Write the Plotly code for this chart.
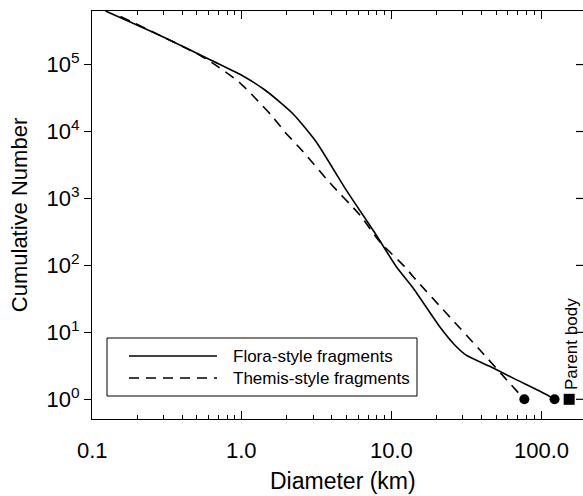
import math
import plotly.graph_objects as go

# Cumulative size distributions of collisional fragments
flora_diameter_km = [0.123, 0.294, 0.631, 1.0, 1.43, 1.80, 2.19, 2.51, 3.16, 5.01,
                     7.94, 10.8, 14.0, 21.1, 26.3, 31.6, 45.7, 64.6, 110.0, 123.0]
flora_cumulative = [631000, 263000, 115000, 69200, 41700, 27500, 18600, 13200, 6920, 1320,
                    282, 95.5, 45.7, 12.0, 6.6, 4.57, 3.09, 2.09, 1.16, 1.0]

themis_diameter_km = [0.155, 0.294, 0.526, 0.708, 0.959, 1.23, 1.58, 1.95, 2.57, 3.89,
                      6.17, 8.39, 12.3, 14.0, 23.4, 38.9, 61.7, 77.3]
themis_cumulative = [525000, 263000, 138000, 90000, 55000, 31600, 17400, 9770, 5010, 1700,
                     562, 224, 95.5, 67.6, 19.1, 5.5, 1.74, 1.0]

# Largest remnant of each family and the original parent body
largest_remnant_d = [flora_diameter_km[-1], themis_diameter_km[-1]]
largest_remnant_n = [flora_cumulative[-1], themis_cumulative[-1]]
parent_body_d = [154.0]
parent_body_n = [1.0]

x_tick_vals = [0.1, 1.0, 10.0, 100.0]
x_tick_text = ["0.1", "1.0", "10.0", "100.0"]
y_tick_vals = [1, 10, 100, 1000, 10000, 100000]
y_tick_text = ["10<sup>0</sup>", "10<sup>1</sup>", "10<sup>2</sup>",
               "10<sup>3</sup>", "10<sup>4</sup>", "10<sup>5</sup>"]
legend_labels = ["Flora-style fragments", "Themis-style fragments"]

FONT = "Liberation Sans, Arial, Helvetica, sans-serif"
INK = "#000000"
DASH = "10px,7px"

fig = go.Figure()
fig.add_trace(go.Scatter(x=flora_diameter_km, y=flora_cumulative, mode="lines",
                         line=dict(color=INK, width=1.6, shape="spline", smoothing=0.6),
                         name=legend_labels[0]))
fig.add_trace(go.Scatter(x=themis_diameter_km, y=themis_cumulative, mode="lines",
                         line=dict(color=INK, width=1.6, dash=DASH, shape="spline", smoothing=0.6),
                         name=legend_labels[1]))
fig.add_trace(go.Scatter(x=largest_remnant_d, y=largest_remnant_n, mode="markers",
                         marker=dict(symbol="circle", size=10, color=INK)))
fig.add_trace(go.Scatter(x=parent_body_d, y=parent_body_n, mode="markers",
                         marker=dict(symbol="square", size=11, color=INK)))

x_range = [-1.0, 2.28]
y_range = [-0.294, 5.8]

# Plot-area geometry in pixels (used for the hand-drawn legend and labels)
L, R, B, T = 92, 583, 419, 11
pw, ph = R - L, B - T
def px(xp):
    return (xp - L) / pw
def py(yp):
    return (B - yp) / ph

shapes = [
    dict(type="rect", xref="paper", yref="paper", x0=px(107), x1=px(417), y0=py(396), y1=py(338),
         line=dict(color=INK, width=1), fillcolor="white", layer="above"),
    dict(type="line", xref="paper", yref="paper", x0=px(129), x1=px(217), y0=py(356), y1=py(356),
         line=dict(color=INK, width=1.6), layer="above"),
    dict(type="line", xref="paper", yref="paper", x0=px(129), x1=px(217), y0=py(378), y1=py(378),
         line=dict(color=INK, width=1.6, dash=DASH), layer="above"),
]
# inward-pointing ticks along the right edge of the frame
for v in y_tick_vals:
    yp = (math.log10(v) - y_range[0]) / (y_range[1] - y_range[0])
    shapes.append(dict(type="line", xref="paper", yref="paper", x0=1 - 7 / pw, x1=1.0, y0=yp, y1=yp,
                       line=dict(color=INK, width=1.2), layer="above"))

annotations = [
    dict(text=legend_labels[0], xref="paper", yref="paper", x=px(231), y=py(356),
         xanchor="left", yanchor="middle", showarrow=False, font=dict(size=17, color=INK, family=FONT)),
    dict(text=legend_labels[1], xref="paper", yref="paper", x=px(231), y=py(378),
         xanchor="left", yanchor="middle", showarrow=False, font=dict(size=17, color=INK, family=FONT)),
    dict(text="Parent body", xref="x", yref="y", x=2.204, y=0.82, textangle=-90,
         xanchor="center", yanchor="middle", showarrow=False, font=dict(size=17, color=INK, family=FONT)),
    dict(text="Diameter (km)", xref="paper", yref="paper", x=px(343), y=py(481),
         xanchor="center", yanchor="middle", showarrow=False, font=dict(size=23, color=INK, family=FONT)),
]
# x tick labels sit lower than the axis would place them
for v, label in zip(x_tick_vals, x_tick_text):
    annotations.append(dict(text=label, xref="x", yref="paper", x=math.log10(v), y=py(450),
                            xanchor="center", yanchor="middle", showarrow=False,
                            font=dict(size=22, color=INK, family=FONT)))

fig.update_layout(
    width=583, height=496,
    margin=dict(l=L, r=583 - R, t=T, b=496 - B),
    paper_bgcolor="white", plot_bgcolor="white",
    showlegend=False,
    font=dict(family=FONT, color=INK),
    shapes=shapes, annotations=annotations,
    xaxis=dict(type="log", range=x_range, tickvals=x_tick_vals, showticklabels=False,
               ticks="inside", ticklen=8, tickwidth=1.2, tickcolor=INK,
               minor=dict(dtick="D1", ticks="inside", ticklen=4, tickwidth=1.2, tickcolor=INK, showgrid=False),
               showline=True, linecolor=INK, linewidth=1.2, mirror="ticks",
               showgrid=False, zeroline=False, automargin=False),
    yaxis=dict(type="log", range=y_range, tickvals=y_tick_vals, ticktext=y_tick_text,
               ticks="outside", ticklen=7, tickwidth=1.2, tickcolor=INK,
               showline=True, linecolor=INK, linewidth=1.2, mirror=True,
               showgrid=False, zeroline=False, automargin=False,
               tickfont=dict(size=22, family=FONT, color=INK),
               title=dict(text="Cumulative Number", font=dict(size=22, family=FONT, color=INK), standoff=12)),
)

fig.write_html("out.html")
